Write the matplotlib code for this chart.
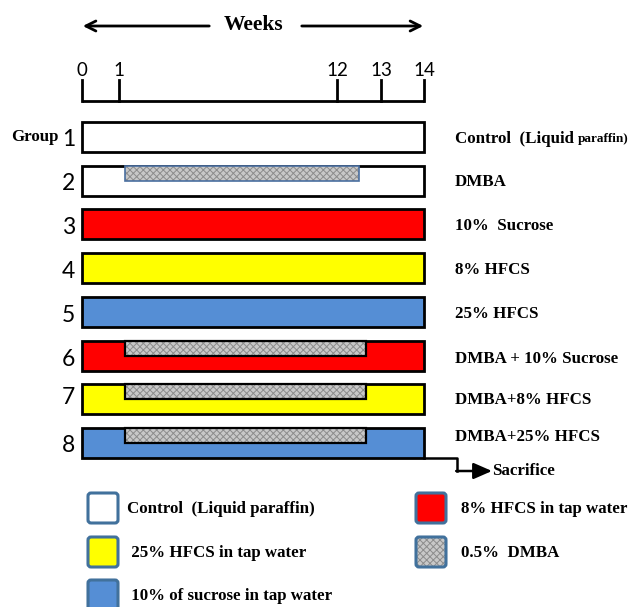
import numpy as np
import matplotlib
matplotlib.use("Agg")
import matplotlib.pyplot as plt
from matplotlib.patches import Rectangle, FancyBboxPatch

plt.rcParams['hatch.linewidth'] = 0.7

# ---------- data ----------
week_ticks = [0, 1, 12, 13, 14]
groups = ['1', '2', '3', '4', '5', '6', '7', '8']
treatments = ['Control  (Liquid ', 'DMBA', '10%  Sucrose', '8% HFCS', '25% HFCS',
              'DMBA + 10% Sucrose', 'DMBA+8% HFCS', 'DMBA+25% HFCS']
drink = ['none', 'none', 'sucrose', 'hfcs8', 'hfcs25', 'sucrose', 'hfcs8', 'hfcs25']
dmba_start = [None, 1.3, None, None, None, 1.3, 1.3, 1.3]
dmba_end = [None, 12.5, None, None, None, 12.65, 12.65, 12.65]
study_start, study_end = 0, 14

legend_left = ['Control  (Liquid paraffin)', ' 25% HFCS in tap water', ' 10% of sucrose in tap water']
legend_left_kind = ['none', 'hfcs8', 'hfcs25']
legend_right = ['8% HFCS in tap water', '0.5%  DMBA']
legend_right_kind = ['sucrose', 'dmba']

# ---------- style ----------
colors = {'none': 'white', 'sucrose': '#ff0000', 'hfcs8': '#ffff00', 'hfcs25': '#558ed5'}
tick_px = [82, 119, 337, 381, 424]   # diagram is not drawn to scale
serif = 'Liberation Serif'
sans = 'Lato'
fs = 12.2


def wx(w):
    return np.interp(w, week_ticks, tick_px)


def dmba_fill(x0, y0, w, h):
    ax.add_patch(Rectangle((x0, y0), w, h, facecolor='#c8c8c8', edgecolor='#8c8c8c',
                           hatch='xxxxx', lw=0, zorder=3))


def dmba_patch(x0, y0, w, h, edge, lw):
    dmba_fill(x0, y0, w, h)
    ax.add_patch(Rectangle((x0, y0), w, h, facecolor='none', edgecolor=edge, lw=lw, zorder=4))


fig = plt.figure(figsize=(6.37, 6.07), dpi=100)
ax = fig.add_axes([0, 0, 1, 1])
ax.set_xlim(0, 637)
ax.set_ylim(607, 0)
ax.axis('off')

# weeks header
ax.text(253, 25, 'Weeks', ha='center', va='center', fontsize=15.5, fontweight='bold', family=serif)
ax.annotate('', xy=(wx(0) - 2, 26), xytext=(212, 26),
            arrowprops=dict(arrowstyle='->', lw=2, color='black', mutation_scale=18))
ax.annotate('', xy=(wx(14) + 2, 26), xytext=(299, 26),
            arrowprops=dict(arrowstyle='->', lw=2, color='black', mutation_scale=18))

# week scale
ax.plot([wx(study_start), wx(study_end)], [101, 101], color='black', lw=2, solid_capstyle='butt')
for w in week_ticks:
    ax.plot([wx(w), wx(w)], [80, 101], color='black', lw=2)
    ax.text(wx(w), 70, str(w), ha='center', va='center', fontsize=13.5, family=sans)

# group bars
bar_top0, bar_step, bar_h = 122, 43.7, 30
label_y = [139, 184, 228, 271, 315, 359, 397, 445]
text_y = [139, 182, 226, 270, 314, 359, 400, 437]
for i, g in enumerate(groups):
    top = bar_top0 + i * bar_step
    x0 = wx(study_start)
    ax.add_patch(Rectangle((x0, top), wx(study_end) - x0, bar_h,
                           facecolor=colors[drink[i]], edgecolor='black', lw=2, zorder=2))
    if dmba_start[i] is not None:
        if drink[i] == 'none':
            dmba_patch(wx(dmba_start[i]), top, wx(dmba_end[i]) - wx(dmba_start[i]), 15, '#4a6fa0', 1.2)
        else:
            dmba_patch(wx(dmba_start[i]), top, wx(dmba_end[i]) - wx(dmba_start[i]), 15, 'black', 1.6)
    ax.text(75, label_y[i], g, ha='right', va='center', fontsize=16.5, family=sans)
    t = ax.text(455, text_y[i], treatments[i], ha='left', va='center', fontsize=fs,
                fontweight='bold', family=serif)
    if i == 0:
        ax.annotate('paraffin)', xy=(1, 0.12), xycoords=t, ha='left', va='bottom',
                    fontsize=9.5, fontweight='bold', family=serif)

ax.text(11, 137, 'Group', ha='left', va='center', fontsize=fs, fontweight='bold', family=serif)

# sacrifice arrow
last_bottom = bar_top0 + (len(groups) - 1) * bar_step + bar_h
ax.plot([wx(study_end), 457, 457], [last_bottom, last_bottom, 471], color='black', lw=1.8)
ax.annotate('', xy=(492, 471), xytext=(456.2, 471),
            arrowprops=dict(arrowstyle='-|>,head_length=0.8,head_width=0.35', lw=1.8,
                            color='black', mutation_scale=14, shrinkA=0, shrinkB=0))
ax.text(492, 471, 'Sacrifice', ha='left', va='center', fontsize=fs, fontweight='bold', family=serif)

# legend
leg_y = [493, 537, 580]


def legend_box(x, y, kind):
    if kind == 'dmba':
        dmba_fill(x, y, 30, 30)
        fc = 'none'
    else:
        fc = colors[kind]
    ax.add_patch(FancyBboxPatch((x, y), 30, 30, boxstyle='round,pad=0,rounding_size=3',
                                facecolor=fc, edgecolor='#41719c', lw=2.2, zorder=4))


for i, lab in enumerate(legend_left):
    legend_box(88, leg_y[i], legend_left_kind[i])
    ax.text(127, leg_y[i] + 16, lab, ha='left', va='center', fontsize=fs,
            fontweight='bold', family=serif)
for i, lab in enumerate(legend_right):
    legend_box(416, leg_y[i], legend_right_kind[i])
    ax.text(461, leg_y[i] + 16, lab, ha='left', va='center', fontsize=fs,
            fontweight='bold', family=serif)

fig.savefig('out.png', dpi=100)
